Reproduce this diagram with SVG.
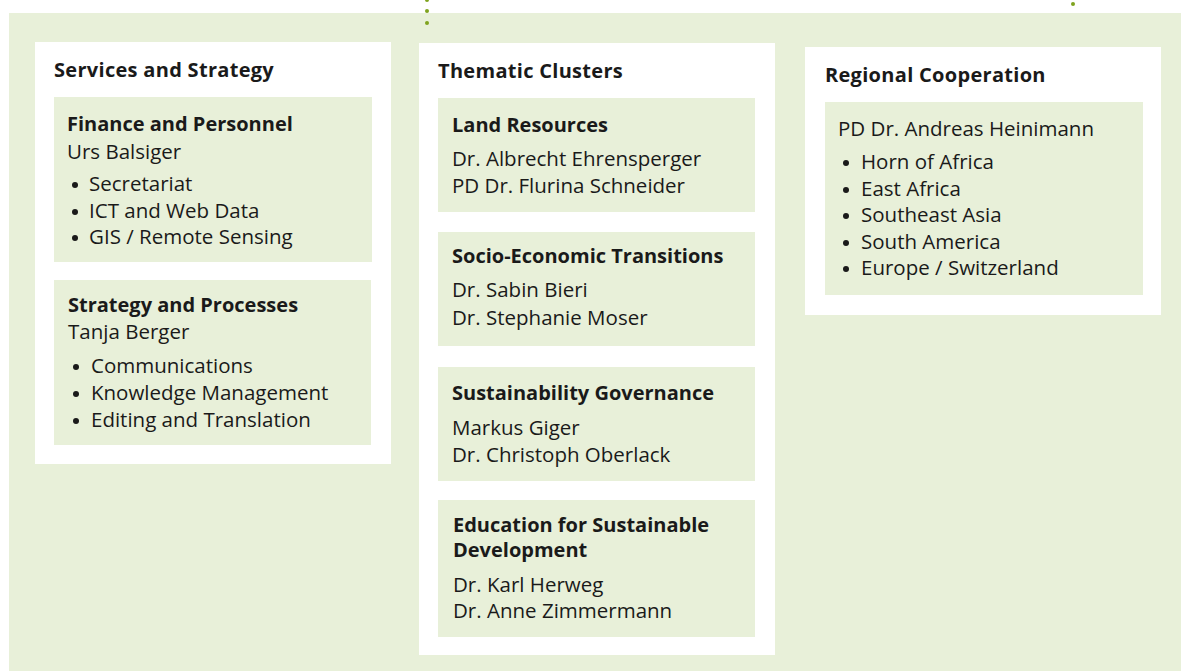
<svg xmlns="http://www.w3.org/2000/svg" width="1181" height="671" viewBox="0 0 1181 671">
<style>
.bg{fill:#e8f0d9}
.panel{fill:#ffffff}
.card{fill:#e8f0d9}
text{font-family:"Open Sans","Noto Sans","DejaVu Sans",sans-serif;fill:#1a1a1a}
.h{font-size:20px;font-weight:700;letter-spacing:0.3px}
.t{font-size:20px;font-weight:700}
.b{font-size:20.5px;font-weight:400}
.dot{fill:#1a1a1a}
.conn{fill:#7fa31e}
</style>
<rect x="0" y="0" width="1181" height="671" fill="#ffffff"/>
<rect class="bg" x="9" y="13" width="1172" height="658"/>
<g id="connectors">
<circle class="conn" cx="427" cy="0" r="2"/>
<circle class="conn" cx="427" cy="11" r="2"/>
<circle class="conn" cx="427" cy="23" r="2"/>
<circle class="conn" cx="1073" cy="4" r="2"/>
</g>
<g id="services-strategy">
<rect class="panel" x="35" y="42" width="356" height="422"/>
<text class="h" x="54" y="77">Services and Strategy</text>
</g>
<g id="finance-personnel">
<rect class="card" x="54" y="97" width="318" height="165"/>
<text class="t" x="67" y="131">Finance and Personnel</text>
<text class="b" x="67" y="159">Urs Balsiger</text>
<circle class="dot" cx="75" cy="185" r="3"/><text class="b" x="89" y="191">Secretariat</text>
<circle class="dot" cx="75" cy="212" r="3"/><text class="b" x="89" y="218">ICT and Web Data</text>
<circle class="dot" cx="75" cy="238" r="3"/><text class="b" x="89" y="244">GIS / Remote Sensing</text>
</g>
<g id="strategy-processes">
<rect class="card" x="54" y="280" width="317" height="165"/>
<text class="t" x="68" y="312">Strategy and Processes</text>
<text class="b" x="68" y="339">Tanja Berger</text>
<circle class="dot" cx="76" cy="367" r="3"/><text class="b" x="91" y="373">Communications</text>
<circle class="dot" cx="76" cy="394" r="3"/><text class="b" x="91" y="400">Knowledge Management</text>
<circle class="dot" cx="76" cy="421" r="3"/><text class="b" x="91" y="427">Editing and Translation</text>
</g>
<g id="thematic-clusters">
<rect class="panel" x="419" y="43" width="356" height="612"/>
<text class="h" x="438" y="78">Thematic Clusters</text>
</g>
<g id="land-resources">
<rect class="card" x="438" y="98" width="317" height="114"/>
<text class="t" x="452" y="132">Land Resources</text>
<text class="b" x="452" y="166">Dr. Albrecht Ehrensperger</text>
<text class="b" x="452" y="193">PD Dr. Flurina Schneider</text>
</g>
<g id="socio-economic">
<rect class="card" x="438" y="232" width="317" height="114"/>
<text class="t" x="452" y="263">Socio-Economic Transitions</text>
<text class="b" x="452" y="297">Dr. Sabin Bieri</text>
<text class="b" x="452" y="325">Dr. Stephanie Moser</text>
</g>
<g id="sustainability-governance">
<rect class="card" x="438" y="367" width="317" height="114"/>
<text class="t" x="452" y="400">Sustainability Governance</text>
<text class="b" x="452" y="435">Markus Giger</text>
<text class="b" x="452" y="462">Dr. Christoph Oberlack</text>
</g>
<g id="education">
<rect class="card" x="438" y="500" width="317" height="137"/>
<text class="t" x="453" y="532">Education for Sustainable</text>
<text class="t" x="453" y="557">Development</text>
<text class="b" x="453" y="592">Dr. Karl Herweg</text>
<text class="b" x="453" y="618">Dr. Anne Zimmermann</text>
</g>
<g id="regional-cooperation">
<rect class="panel" x="805" y="47" width="356" height="268"/>
<text class="h" x="825" y="82">Regional Cooperation</text>
</g>
<g id="regional-card">
<rect class="card" x="825" y="102" width="318" height="193"/>
<text class="b" x="838" y="136">PD Dr. Andreas Heinimann</text>
<circle class="dot" cx="846" cy="163" r="3"/><text class="b" x="861" y="169">Horn of Africa</text>
<circle class="dot" cx="846" cy="190" r="3"/><text class="b" x="861" y="196">East Africa</text>
<circle class="dot" cx="846" cy="216" r="3"/><text class="b" x="861" y="222">Southeast Asia</text>
<circle class="dot" cx="846" cy="243" r="3"/><text class="b" x="861" y="249">South America</text>
<circle class="dot" cx="846" cy="269" r="3"/><text class="b" x="861" y="275">Europe / Switzerland</text>
</g>
</svg>
